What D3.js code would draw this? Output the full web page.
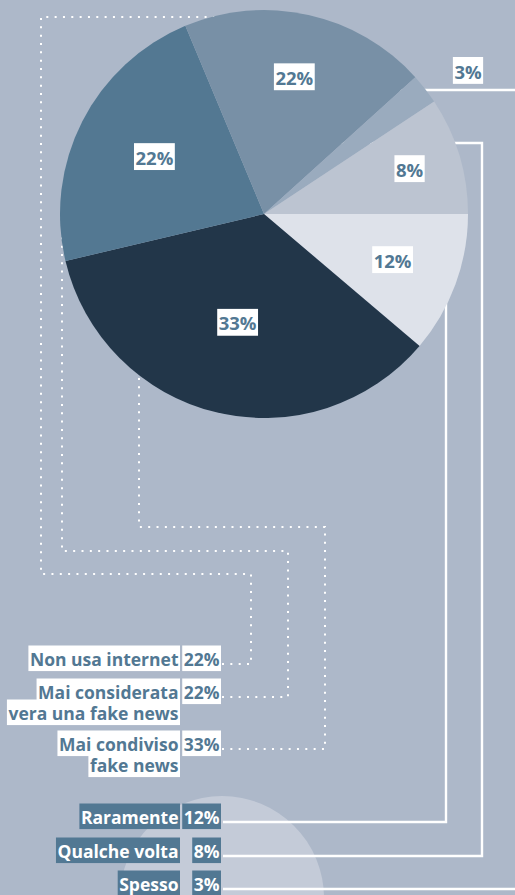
<!DOCTYPE html>
<html>
<head>
<meta charset="utf-8">
<script src="https://cdn.jsdelivr.net/npm/d3@7.9.0/dist/d3.min.js"></script>
<style>
  html, body { margin: 0; padding: 0; background: #adb8c9; }
  svg { display: block; }
  text { font-family: "Open Sans", sans-serif; font-weight: 700; }
</style>
</head>
<body>
<svg id="chart"></svg>
<script>
// pie slices, clockwise starting at 3 o'clock
const sliceNames = ["Raramente", "Mai condiviso fake news", "Mai considerata vera una fake news", "Non usa internet", "Spesso", "Qualche volta"];
const slicePercents = [12, 33, 22, 22, 3, 8];
// share of the circle each slice actually covers in the picture
const sliceShares = [11.2, 35.1, 22.4, 19.6, 2.4, 9.3];

// left-hand labels
const neverNames = [["Non usa internet"], ["Mai considerata", "vera una fake news"], ["Mai condiviso", "fake news"]];
const neverValues = [22, 22, 33];
const sharedNames = ["Raramente", "Qualche volta", "Spesso"];
const sharedValues = [12, 8, 3];

const width = 515, height = 895;
const cx = 264, cy = 214, radius = 204;
const blue = "#527893";
const sliceColors = ["#dee2ea", "#223649", "#537892", "#7890a6", "#9aabbe", "#bcc4d1"];
const labelRadius = [137, 113, 123, 139, 0, 152];

const svg = d3.select("#chart")
    .attr("width", width)
    .attr("height", height);

svg.append("rect")
    .attr("width", width)
    .attr("height", height)
    .attr("fill", "#adb8c9");

// pale half circle behind the bottom labels
svg.append("circle")
    .attr("cx", 222)
    .attr("cy", 898)
    .attr("r", 102)
    .attr("fill", "#c4cbd8");

// connectors (drawn under the pie, so they stop at its edge)
const neverLineY = [664, 697, 749];
const sharedLineY = [822, 856, 889];

const dottedPaths = [
    [[222, neverLineY[0]], [251, neverLineY[0]], [251, 574], [41, 574], [41, 17], [cx, 17]],
    [[222, neverLineY[1]], [288, neverLineY[1]], [288, 551], [62, 551], [62, cy]],
    [[222, neverLineY[2]], [325, neverLineY[2]], [325, 527], [139, 527], [139, cy]]
];
const solidPaths = [
    [[223, sharedLineY[0]], [446, sharedLineY[0]], [446, cy]],
    [[223, sharedLineY[1]], [482, sharedLineY[1]], [482, 143], [cx, 143]],
    [[223, sharedLineY[2]], [525, sharedLineY[2]], [525, 90], [cx, 90]]
];

const line = d3.line();

svg.append("g")
    .selectAll("path")
    .data(dottedPaths)
    .enter()
    .append("path")
    .attr("d", line)
    .attr("fill", "none")
    .attr("stroke", "#fff")
    .attr("stroke-width", 2)
    .attr("stroke-dasharray", "2 6.33");

svg.append("g")
    .selectAll("path")
    .data(solidPaths)
    .enter()
    .append("path")
    .attr("d", line)
    .attr("fill", "none")
    .attr("stroke", "#fff")
    .attr("stroke-width", 2.4);

// pie
const pie = d3.pie()
    .sort(null)
    .startAngle(Math.PI / 2)
    .endAngle(Math.PI / 2 + 2 * Math.PI)
    .value(d => d);

const arcs = pie(sliceShares);

const arc = d3.arc()
    .innerRadius(0)
    .outerRadius(radius);

const pieG = svg.append("g")
    .attr("transform", `translate(${cx}, ${cy})`);

pieG.selectAll("path")
    .data(arcs)
    .enter()
    .append("path")
    .attr("d", arc)
    .attr("fill", (d, i) => sliceColors[i]);

// one text element (one or more lines), each line on its own box
function boxedText(g, x, y, lines, anchor, boxFill, textFill, size, lead) {
    const t = g.append("text")
        .attr("text-anchor", anchor)
        .style("font-size", size + "px")
        .attr("fill", textFill);
    const spans = lines.map((s, j) => t.append("tspan")
        .attr("x", x)
        .attr("y", y + j * lead)
        .text(s));
    const b = t.node().getBBox();
    const ascent = y - b.y;
    const descent = size * 0.29;
    spans.forEach((sp, j) => {
        const w = sp.node().getComputedTextLength();
        const x0 = anchor === "end" ? x - w : anchor === "middle" ? x - w / 2 : x;
        g.insert("rect", "text")
            .attr("x", x0 - 1.5)
            .attr("y", y + j * lead - ascent - 1.5)
            .attr("width", w + 3)
            .attr("height", ascent + descent + 1.5)
            .attr("fill", boxFill);
    });
    return t;
}

const pieLabels = svg.append("g");
arcs.forEach((d, i) => {
    const lg = pieLabels.append("g");
    let x, y;
    if (labelRadius[i] > 0) {
        const c = d3.arc().innerRadius(labelRadius[i]).outerRadius(labelRadius[i]).centroid(d);
        x = cx + c[0];
        y = cy + c[1];
    } else {
        x = 468;
        y = 72;
    }
    boxedText(lg, x, y + 6.5, [slicePercents[i] + "%"], "middle", "#fff", blue, 18.5, 0);
});

// left labels
const legend = svg.append("g");

neverNames.forEach((lines, i) => {
    const g = legend.append("g");
    const base = neverLineY[i] + 2;
    boxedText(g, 178.5, base, lines, "end", "#fff", blue, 17.5, 21);
    boxedText(g, 219.5, base, [neverValues[i] + "%"], "end", "#fff", blue, 17.5, 0);
});

sharedNames.forEach((s, i) => {
    const g = legend.append("g");
    const base = sharedLineY[i] + 2;
    boxedText(g, 178.5, base, [s], "end", blue, "#fff", 17.5, 0);
    boxedText(g, 219.5, base, [sharedValues[i] + "%"], "end", blue, "#fff", 17.5, 0);
});
</script>
</body>
</html>
